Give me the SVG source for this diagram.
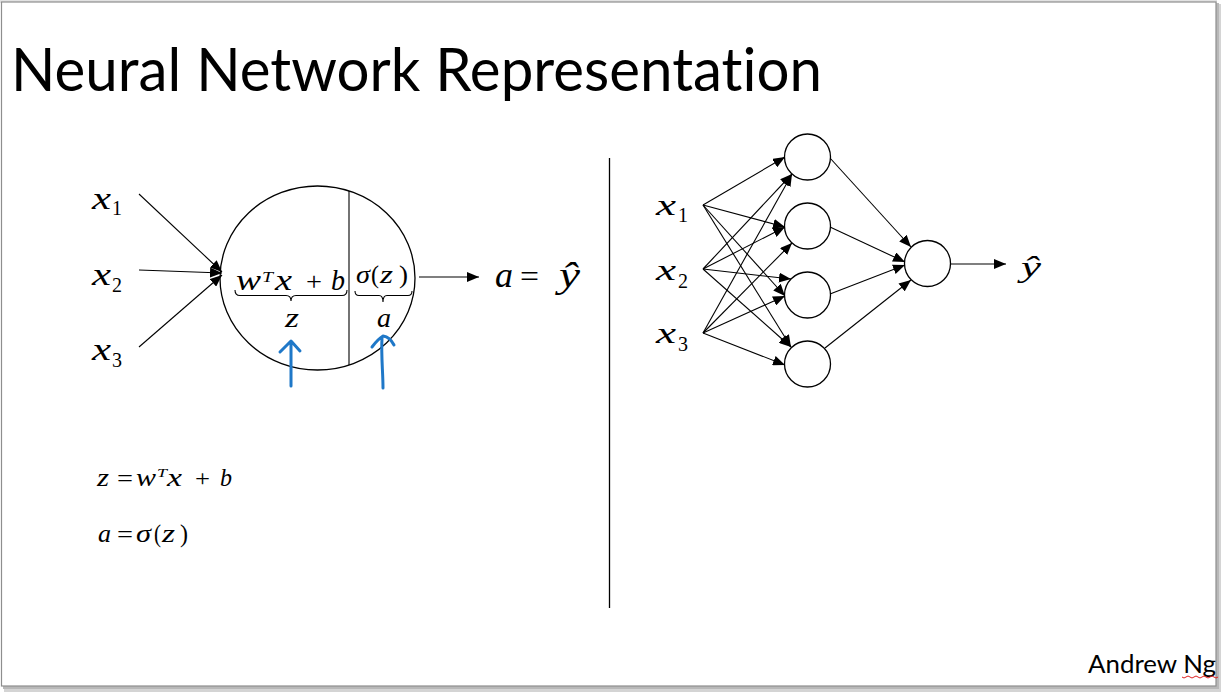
<svg xmlns="http://www.w3.org/2000/svg" width="1221" height="692" viewBox="0 0 1221 692">
  <style>
    .ln{stroke:#000;stroke-width:1.1;fill:none}
    .nd{fill:#fff;stroke:#000;stroke-width:1.3}
    .m{font-family:"Liberation Serif","Times New Roman",serif;font-style:italic;fill:#000}
    .u{font-style:normal}
    .ink{stroke:#1f78c8;stroke-width:3;fill:none;stroke-linecap:round;stroke-linejoin:round}
    .sans{font-family:Lato,"Noto Sans",sans-serif;fill:#000;font-variant-ligatures:none}
  </style>
  <defs>
    <marker id="ah" viewBox="0 0 12 10" refX="12" refY="5" markerWidth="12" markerHeight="10" markerUnits="userSpaceOnUse" orient="auto">
      <path d="M0,0 L12,5 L0,10 z" fill="#000"/>
    </marker>
  </defs>

  <!-- page, frame and drop shadow -->
  <rect x="0" y="0" width="1221" height="692" fill="#fff"/>
  <rect x="4" y="4" width="1217" height="688" fill="#d4d4d4"/>
  <rect x="3" y="3" width="1216" height="686" fill="#b8b8b8"/>
  <rect x="0" y="0" width="1217" height="3" fill="#e2e2e2"/>
  <rect x="1.5" y="2" width="1214.5" height="684" fill="#fff" stroke="#8e8e8e" stroke-width="1.2"/>

  <!-- title -->
  <text id="title" class="sans" x="11" y="91" font-size="60" textLength="811" lengthAdjust="spacingAndGlyphs">Neural Network Representation</text>

  <!-- left: single neuron -->
  <g id="neuron">
    <ellipse class="nd" cx="317.5" cy="278" rx="97.5" ry="92"/>
    <line class="ln" x1="349" y1="191" x2="349" y2="365"/>
    <text class="m" font-size="30"><tspan x="236" y="290" textLength="25" lengthAdjust="spacingAndGlyphs">w</tspan><tspan x="262" y="282" font-size="15" textLength="11" lengthAdjust="spacingAndGlyphs">T</tspan><tspan x="275" y="290" textLength="17" lengthAdjust="spacingAndGlyphs">x</tspan><tspan class="u" x="306" y="290" font-size="26" textLength="16" lengthAdjust="spacingAndGlyphs">+</tspan><tspan x="331" y="290" textLength="14" lengthAdjust="spacingAndGlyphs">b</tspan></text>
    <path class="ln" d="M235,290 Q235,295.5 240,295.5 L286,295.5 Q291,295.5 291,301 Q291,295.5 296,295.5 L342,295.5 Q347,295.5 347,290"/>
    <text class="m" x="285" y="327" font-size="28" textLength="14" lengthAdjust="spacingAndGlyphs">z</text>
    <text class="m" font-size="25"><tspan x="356" y="283" textLength="14" lengthAdjust="spacingAndGlyphs">σ</tspan><tspan class="u" x="371" y="283" textLength="8" lengthAdjust="spacingAndGlyphs">(</tspan><tspan x="380" y="283" textLength="13" lengthAdjust="spacingAndGlyphs">z</tspan><tspan class="u" x="399" y="283" textLength="9" lengthAdjust="spacingAndGlyphs">)</tspan></text>
    <path class="ln" d="M355,291 Q355,295.5 359,295.5 L379,295.5 Q383,295.5 383,302 Q383,295.5 387,295.5 L408,295.5 Q412,295.5 412,291"/>
    <text class="m" x="377" y="327" font-size="28" textLength="14" lengthAdjust="spacingAndGlyphs">a</text>
  </g>

  <g id="inputs-left">
    <text class="m" font-size="31"><tspan x="92" y="209" textLength="19" lengthAdjust="spacingAndGlyphs">x</tspan><tspan class="u" x="112" y="215" font-size="21" textLength="10" lengthAdjust="spacingAndGlyphs">1</tspan></text>
    <text class="m" font-size="31"><tspan x="92" y="285" textLength="19" lengthAdjust="spacingAndGlyphs">x</tspan><tspan class="u" x="112" y="292" font-size="21" textLength="10" lengthAdjust="spacingAndGlyphs">2</tspan></text>
    <text class="m" font-size="31"><tspan x="92" y="360" textLength="19" lengthAdjust="spacingAndGlyphs">x</tspan><tspan class="u" x="112" y="367" font-size="21" textLength="10" lengthAdjust="spacingAndGlyphs">3</tspan></text>
  </g>

  <g id="output-left">
    <text class="m" font-size="35"><tspan x="495" y="287" textLength="18" lengthAdjust="spacingAndGlyphs">a</tspan><tspan class="u" x="520" y="287" font-size="32" textLength="19" lengthAdjust="spacingAndGlyphs">=</tspan><tspan x="559" y="287" textLength="21" lengthAdjust="spacingAndGlyphs">ŷ</tspan></text>
  </g>

  <g id="connectors-left">
    <line class="ln" x1="139" y1="194" x2="222" y2="272" marker-end="url(#ah)"/>
    <line class="ln" x1="139" y1="270" x2="222" y2="273" marker-end="url(#ah)"/>
    <line class="ln" x1="139" y1="347" x2="222" y2="275" marker-end="url(#ah)"/>
    <line class="ln" x1="419" y1="277" x2="479" y2="277" marker-end="url(#ah)"/>
  </g>

  <!-- hand-drawn pointers -->
  <g id="pointers">
    <path class="ink" d="M291,386 L291,341 M280,352 L291,341 L300,351"/>
    <path class="ink" d="M383,388 C383,372 381,356 382,338 M372,347 Q378,339 383,336 Q390,337 394,345"/>
  </g>

  <!-- equations -->
  <g id="equations">
    <text class="m" font-size="25"><tspan x="97" y="486" textLength="12" lengthAdjust="spacingAndGlyphs">z</tspan><tspan class="u" x="117" y="486" font-size="24" textLength="16" lengthAdjust="spacingAndGlyphs">=</tspan><tspan x="136" y="486" textLength="20" lengthAdjust="spacingAndGlyphs">w</tspan><tspan x="157" y="477" font-size="13" textLength="10" lengthAdjust="spacingAndGlyphs">T</tspan><tspan x="167" y="486" textLength="15" lengthAdjust="spacingAndGlyphs">x</tspan><tspan class="u" x="195" y="486" font-size="24" textLength="15" lengthAdjust="spacingAndGlyphs">+</tspan><tspan x="220" y="486" textLength="12" lengthAdjust="spacingAndGlyphs">b</tspan></text>
    <text class="m" font-size="25"><tspan x="98" y="542" textLength="13" lengthAdjust="spacingAndGlyphs">a</tspan><tspan class="u" x="117" y="542" font-size="24" textLength="16" lengthAdjust="spacingAndGlyphs">=</tspan><tspan x="136" y="542" textLength="15" lengthAdjust="spacingAndGlyphs">σ</tspan><tspan class="u" x="154" y="542" textLength="7" lengthAdjust="spacingAndGlyphs">(</tspan><tspan x="162" y="542" textLength="13" lengthAdjust="spacingAndGlyphs">z</tspan><tspan class="u" x="180" y="542" textLength="8" lengthAdjust="spacingAndGlyphs">)</tspan></text>
  </g>

  <line id="divider" x1="609.5" y1="158" x2="609.5" y2="608" stroke="#000" stroke-width="1.3"/>

  <!-- right: two-layer network -->
  <g id="inputs-right">
    <text class="m" font-size="30"><tspan x="656" y="215" textLength="20" lengthAdjust="spacingAndGlyphs">x</tspan><tspan class="u" x="678" y="222" font-size="21" textLength="10" lengthAdjust="spacingAndGlyphs">1</tspan></text>
    <text class="m" font-size="30"><tspan x="656" y="280" textLength="20" lengthAdjust="spacingAndGlyphs">x</tspan><tspan class="u" x="678" y="288" font-size="21" textLength="10" lengthAdjust="spacingAndGlyphs">2</tspan></text>
    <text class="m" font-size="30"><tspan x="656" y="343" textLength="20" lengthAdjust="spacingAndGlyphs">x</tspan><tspan class="u" x="678" y="351" font-size="21" textLength="10" lengthAdjust="spacingAndGlyphs">3</tspan></text>
  </g>

  <g id="connectors-right">
    <line class="ln" x1="703" y1="205" x2="785" y2="157" marker-end="url(#ah)"/>
    <line class="ln" x1="703" y1="269" x2="792" y2="174" marker-end="url(#ah)"/>
    <line class="ln" x1="703" y1="333" x2="792" y2="174" marker-end="url(#ah)"/>
    <line class="ln" x1="703" y1="205" x2="785" y2="227" marker-end="url(#ah)"/>
    <line class="ln" x1="703" y1="269" x2="785" y2="227" marker-end="url(#ah)"/>
    <line class="ln" x1="703" y1="333" x2="792" y2="243" marker-end="url(#ah)"/>
    <line class="ln" x1="703" y1="205" x2="785" y2="296" marker-end="url(#ah)"/>
    <line class="ln" x1="703" y1="269" x2="791" y2="279" marker-end="url(#ah)"/>
    <line class="ln" x1="703" y1="333" x2="785" y2="296" marker-end="url(#ah)"/>
    <line class="ln" x1="703" y1="205" x2="791" y2="347" marker-end="url(#ah)"/>
    <line class="ln" x1="703" y1="269" x2="791" y2="347" marker-end="url(#ah)"/>
    <line class="ln" x1="703" y1="333" x2="785" y2="365" marker-end="url(#ah)"/>
    <line class="ln" x1="830" y1="158" x2="911" y2="247" marker-end="url(#ah)"/>
    <line class="ln" x1="830" y1="227" x2="905" y2="262" marker-end="url(#ah)"/>
    <line class="ln" x1="830" y1="294" x2="905" y2="265" marker-end="url(#ah)"/>
    <line class="ln" x1="825" y1="348" x2="911" y2="280" marker-end="url(#ah)"/>
    <line class="ln" x1="950" y1="264" x2="1006" y2="264" marker-end="url(#ah)"/>
  </g>

  <g id="h1"><circle class="nd" cx="807.5" cy="157" r="23"/></g>
  <g id="h2"><circle class="nd" cx="807.5" cy="226" r="23"/></g>
  <g id="h3"><circle class="nd" cx="807.5" cy="295" r="23"/></g>
  <g id="h4"><circle class="nd" cx="807.5" cy="364" r="23"/></g>
  <g id="out"><circle class="nd" cx="927.5" cy="263.5" r="23"/></g>

  <g id="yhat"><text class="m" x="1021" y="277" font-size="30" textLength="20" lengthAdjust="spacingAndGlyphs">ŷ</text></g>

  <!-- footer -->
  <text id="author" class="sans" x="1088" y="673" font-size="25" textLength="128" lengthAdjust="spacingAndGlyphs">Andrew Ng</text>
  <path d="M1182,677 q2,2 4,0 t4,0 t4,0 t4,0 t4,0 t4,0 t4,0 t4,0 t4,0" fill="none" stroke="#e02020" stroke-width="1"/>
</svg>
